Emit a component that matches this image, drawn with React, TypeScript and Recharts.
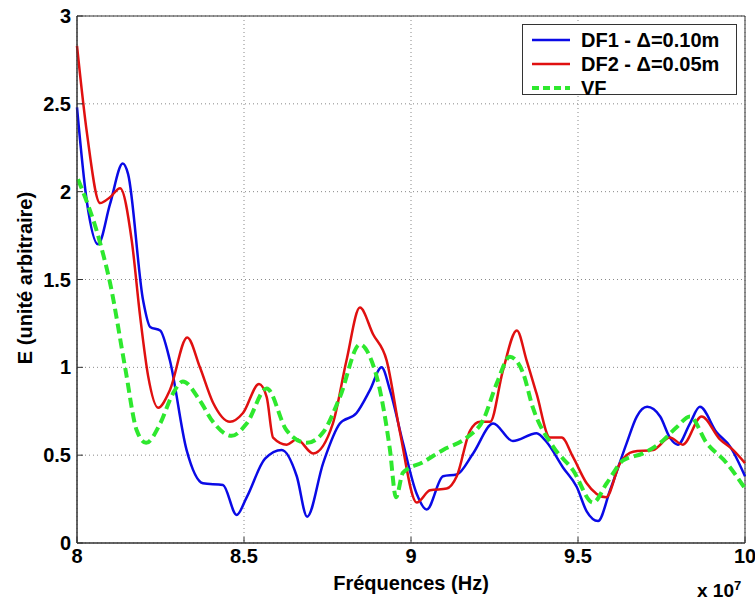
import React from "react";
import {
  CartesianGrid,
  LineChart,
  Line,
  ReferenceArea,
  XAxis,
  YAxis,
} from "recharts";

// frequencies in units of 1e7 Hz
const df1Freq = [8.0, 8.029, 8.063, 8.099, 8.137, 8.153, 8.198, 8.219, 8.249, 8.278, 8.328, 8.377, 8.437, 8.478, 8.508, 8.563, 8.613, 8.658, 8.689, 8.737, 8.787, 8.837, 8.877, 8.912, 8.937, 8.976, 9.017, 9.047, 9.096, 9.137, 9.186, 9.246, 9.305, 9.376, 9.406, 9.455, 9.496, 9.526, 9.56, 9.596, 9.646, 9.676, 9.707, 9.746, 9.775, 9.799, 9.835, 9.865, 9.915, 9.955, 10.0];
const df1E = [2.48, 1.95, 1.7, 1.93, 2.16, 2.1, 1.38, 1.23, 1.21, 1.04, 0.53, 0.34, 0.33, 0.16, 0.26, 0.48, 0.53, 0.38, 0.15, 0.455, 0.68, 0.74, 0.87, 1.0, 0.87, 0.57, 0.28, 0.19, 0.38, 0.39, 0.51, 0.68, 0.58, 0.625, 0.575, 0.43, 0.32, 0.18, 0.125, 0.3, 0.57, 0.72, 0.775, 0.72, 0.6, 0.56, 0.68, 0.775, 0.63, 0.55, 0.38];

const df2Freq = [8.0, 8.03, 8.069, 8.1, 8.129, 8.164, 8.189, 8.213, 8.243, 8.278, 8.33, 8.368, 8.407, 8.458, 8.497, 8.545, 8.568, 8.587, 8.628, 8.658, 8.707, 8.766, 8.807, 8.847, 8.886, 8.927, 8.967, 9.017, 9.057, 9.107, 9.137, 9.177, 9.207, 9.237, 9.275, 9.317, 9.346, 9.376, 9.416, 9.451, 9.485, 9.526, 9.584, 9.626, 9.665, 9.725, 9.775, 9.814, 9.87, 9.925, 9.964, 10.0];
const df2E = [2.83, 2.33, 1.935, 1.97, 2.02, 1.72, 1.29, 0.95, 0.77, 0.87, 1.17, 1.0, 0.8, 0.69, 0.74, 0.905, 0.83, 0.6, 0.56, 0.59, 0.51, 0.68, 1.04, 1.34, 1.19, 1.04, 0.63, 0.23, 0.3, 0.31, 0.38, 0.64, 0.69, 0.69, 0.98, 1.21, 1.04, 0.85, 0.6, 0.6, 0.49, 0.34, 0.26, 0.455, 0.52, 0.53, 0.6, 0.56, 0.72, 0.59, 0.53, 0.455];

const vfFreq = [8.003, 8.069, 8.099, 8.144, 8.179, 8.207, 8.249, 8.287, 8.317, 8.368, 8.407, 8.463, 8.508, 8.568, 8.628, 8.688, 8.737, 8.787, 8.847, 8.877, 8.907, 8.937, 8.955, 8.976, 9.036, 9.096, 9.167, 9.216, 9.257, 9.296, 9.335, 9.365, 9.425, 9.485, 9.545, 9.586, 9.635, 9.695, 9.746, 9.796, 9.835, 9.885, 9.945, 10.0];
const vfE = [2.07, 1.71, 1.48, 1.0, 0.64, 0.57, 0.68, 0.85, 0.92, 0.81, 0.69, 0.61, 0.68, 0.88, 0.64, 0.57, 0.63, 0.83, 1.13, 1.06, 0.87, 0.53, 0.26, 0.4, 0.46, 0.53, 0.6, 0.7, 0.91, 1.06, 0.97, 0.77, 0.55, 0.415, 0.23, 0.34, 0.47, 0.51, 0.57, 0.66, 0.72, 0.57, 0.455, 0.31];

const xTicks = [8, 8.5, 9, 9.5, 10];
const yTicks = [0, 0.5, 1, 1.5, 2, 2.5, 3];

const toPoints = (xs: number[], ys: number[]) =>
  xs.map((f, i) => ({ f, e: ys[i] }));

const series = [
  { name: "DF1 - \u0394=0.10m", color: "#0a0ae6", data: toPoints(df1Freq, df1E), dash: undefined, width: 2.5 },
  { name: "DF2 - \u0394=0.05m", color: "#e01010", data: toPoints(df2Freq, df2E), dash: undefined, width: 2.5 },
  { name: "VF", color: "#2ee82e", data: toPoints(vfFreq, vfE), dash: "10 5", width: 4 },
];

const font = '"Liberation Sans", Arial, sans-serif';
const tickStyle = { fontSize: 20, fontWeight: 700, fill: "#000", fontFamily: font };
const labelStyle = { fontSize: 20, fontWeight: 700, fill: "#000", fontFamily: font };

function LegendBox() {
  return (
    <div
      style={{
        position: "absolute",
        left: 522,
        top: 24,
        width: 215,
        height: 71,
        border: "1px solid #333",
        background: "#fff",
        fontFamily: font,
        fontWeight: 700,
        fontSize: 20,
        boxSizing: "border-box",
      }}
    >
      {series.map((s, i) => (
        <div key={s.name} style={{ position: "absolute", left: 9, top: 3 + i * 24, height: 24, display: "flex", alignItems: "center", whiteSpace: "nowrap" }}>
          <svg width={38} height={6} style={{ marginRight: 11 }}>
            <line x1={0} y1={3} x2={38} y2={3} stroke={s.color} strokeWidth={s.dash ? 4 : 2.5} strokeDasharray={s.dash ? "7 4" : undefined} />
          </svg>
          <span>{s.name}</span>
        </div>
      ))}
    </div>
  );
}

const YLabel = () => (
  <text
    x={25}
    y={278}
    transform="rotate(-90 25 278)"
    textAnchor="middle"
    dominantBaseline="central"
    style={labelStyle}
  >
    E (unité arbitraire)
  </text>
);

const blank = () => "";

export default function App() {
  return (
    <div style={{ position: "absolute", left: 0, top: 0, width: 755, height: 603, background: "#fff" }}>
      <LineChart width={755} height={603} margin={{ top: 16, right: 10, left: 0, bottom: 0 }}>
        <CartesianGrid stroke="#888" strokeDasharray="1 3" />
        <XAxis
          type="number"
          dataKey="f"
          domain={[8, 10]}
          ticks={xTicks}
          allowDuplicatedCategory={false}
          height={60}
          tick={tickStyle}
          tickLine={{ stroke: "#333" }}
          tickSize={-6}
          tickMargin={12}
          axisLine={{ stroke: "#333" }}
          tickFormatter={(v: number) => String(v)}
          label={{ value: "Fréquences (Hz)", position: "insideBottom", offset: 13, style: labelStyle }}
        />
        <XAxis
          xAxisId="top"
          orientation="top"
          type="number"
          domain={[8, 10]}
          ticks={xTicks}
          height={0}
          tickFormatter={blank}
          tickLine={{ stroke: "#333" }}
          tickSize={-6}
          axisLine={{ stroke: "#333" }}
        />
        <YAxis
          type="number"
          dataKey="e"
          domain={[0, 3]}
          ticks={yTicks}
          width={77}
          tick={tickStyle}
          tickLine={{ stroke: "#333" }}
          tickSize={-6}
          tickMargin={12}
          axisLine={{ stroke: "#333" }}
          label={<YLabel />}
        />
        <YAxis
          yAxisId="right"
          orientation="right"
          type="number"
          domain={[0, 3]}
          ticks={yTicks}
          width={0}
          tickFormatter={blank}
          tickLine={{ stroke: "#333" }}
          tickSize={-6}
          axisLine={{ stroke: "#333" }}
        />
        <ReferenceArea x1={8} x2={10} y1={0} y2={3} fill="none" stroke="#333" strokeWidth={1} />
        {series.map((s) => (
          <Line
            key={s.name}
            data={s.data}
            dataKey="e"
            name={s.name}
            type="monotone"
            stroke={s.color}
            strokeWidth={s.width}
            strokeDasharray={s.dash}
            dot={false}
            activeDot={false}
            isAnimationActive={false}
          />
        ))}
      </LineChart>
      <LegendBox />
      <div style={{ position: "absolute", left: 697, top: 578, fontFamily: font, fontWeight: 700, fontSize: 19 }}>
        x 10<sup style={{ fontSize: 13 }}>7</sup>
      </div>
    </div>
  );
}
